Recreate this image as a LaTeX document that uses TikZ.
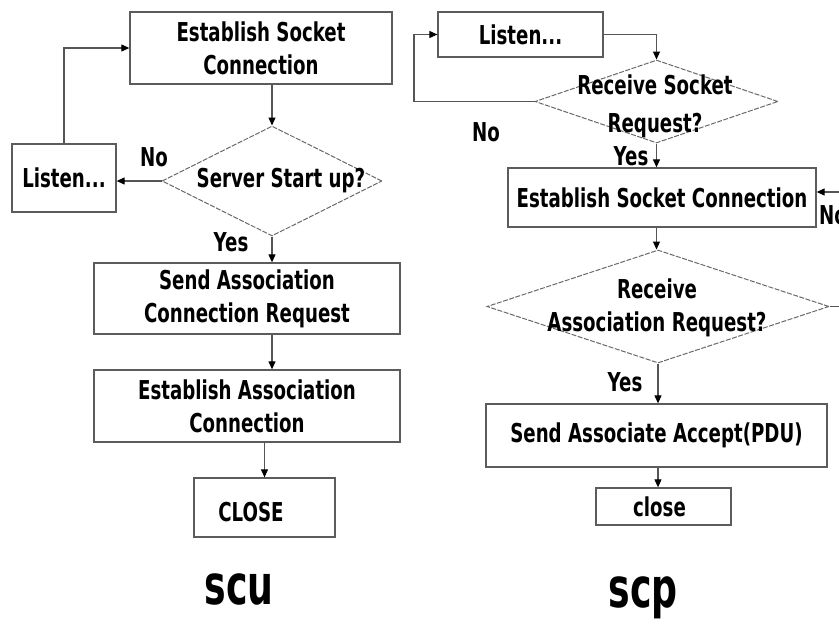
\documentclass[tikz,border=0pt]{standalone}
\usepackage{fontspec}
\setmainfont{DejaVu Sans}[FakeStretch=0.70]
\newfontfamily\titlefont{DejaVu Sans}[FakeStretch=0.66]
\usetikzlibrary{shapes.geometric,arrows.meta}
\definecolor{boxgray}{HTML}{5C5C5C}
\definecolor{diagray}{HTML}{6A6A6A}
\definecolor{linegray}{HTML}{555555}

\begin{document}
\begin{tikzpicture}[x=1pt,y=-1pt,
  every node/.style={font=\bfseries\fontsize{26}{33}\selectfont, inner sep=0pt},
  box/.style={draw=boxgray, line width=1.3pt, align=center},
  dia/.style={draw=diagray, diamond, line width=1pt, dash pattern=on 5pt off 1.5pt},
  txt/.style={align=center},
  lbl/.style={},
  title/.style={font=\titlefont\bfseries\fontsize{55}{60}\selectfont, anchor=base},
  arr/.style={draw=linegray, line width=1.1pt, -{Triangle[length=8pt,width=7pt,color=black]}}
]
\useasboundingbox (0,0) rectangle (839,624);
\fill[white] (0,0) rectangle (839,624);
\clip (0,0) rectangle (839,624);

% ---------- SCU side ----------
\node[box, minimum width=262pt, minimum height=72pt] (esc1) at (261,48) {Establish Socket\\Connection};
\node[box, minimum width=104pt, minimum height=68pt] (listen1) at (64,178) {Listen...};
\node[dia, minimum width=220pt, minimum height=110pt] (dS) at (272,181) {};
\node[txt] (dSt) at (281,181) {Server Start up?};
\node[box, minimum width=306pt, minimum height=71pt] (send) at (247,298.5) {Send Association\\Connection Request};
\node[box, minimum width=306pt, minimum height=72pt] (estA) at (247,406) {Establish Association\\Connection};
\node[box, minimum width=141pt, minimum height=59pt] (close1) at (264.5,507.5) {};
\node[txt] (close1t) at (251,512) {CLOSE};

\node[lbl] (noS) at (154,157) {No};
\node[lbl] (yesS) at (231,242) {Yes};

\draw[arr] (esc1.south -| dS.north) -- (dS.north);
\draw[arr] (dS.west) -- (dS.west -| listen1.east);
\draw[arr] (listen1.north) |- (esc1.west);
\draw[arr] (dS.south) -- (dS.south |- send.north);
\draw[arr] (send.south -| dS.south) -- (estA.north -| dS.south);
\draw[arr] (estA.south -| close1.north) -- (close1.north);

\node[title] (scu) at (239,604) {scu};

% ---------- SCP side ----------
\node[box, minimum width=165pt, minimum height=45pt] (listen2) at (520.5,34.5) {Listen...};
\node[dia, minimum width=243pt, minimum height=83pt] (d1) at (656.5,101.5) {};
\node[txt, font=\bfseries\fontsize{26}{38}\selectfont] (d1t) at (655,106) {Receive Socket\\Request?};
\node[box, minimum width=308pt, minimum height=59pt] (esc2) at (662,197.5) {Establish Socket Connection};
\node[dia, minimum width=342pt, minimum height=113pt] (d2) at (658,306.5) {};
\node[txt] (d2t) at (657,308) {Receive\\Association Request?};
\node[box, minimum width=341pt, minimum height=63pt] (saa) at (656.5,435.5) {Send Associate Accept(PDU)};
\node[box, minimum width=135pt, minimum height=37pt] (close2) at (663.5,506.5) {close\hspace*{8pt}};

\node[lbl] (noP1) at (486,132) {No};
\node[lbl] (yesP1) at (631,156) {Yes};
\node[lbl] (yesP2) at (625,382) {Yes};
\node[lbl, anchor=west] (noP2) at (819,215) {No};

\coordinate (loopL) at (414,34.5);
\coordinate (loopR) at (850,192);

\draw[arr] (listen2.east) -| (d1.north);
\draw[arr] (d1.west) -| (loopL) -- (listen2.west);
\draw[arr] (d1.south) -- (d1.south |- esc2.north);
\draw[arr] (esc2.south -| d1.south) -- (d2.north -| d1.south);
\draw[arr] (d2.east) -| (loopR) -- (esc2.east |- loopR);
\draw[arr] (d2.south) -- (d2.south |- saa.north);
\draw[arr] (saa.south -| d2.south) -- (close2.north -| d2.south);

\node[title] (scp) at (643,607) {scp};
\end{tikzpicture}
\end{document}
